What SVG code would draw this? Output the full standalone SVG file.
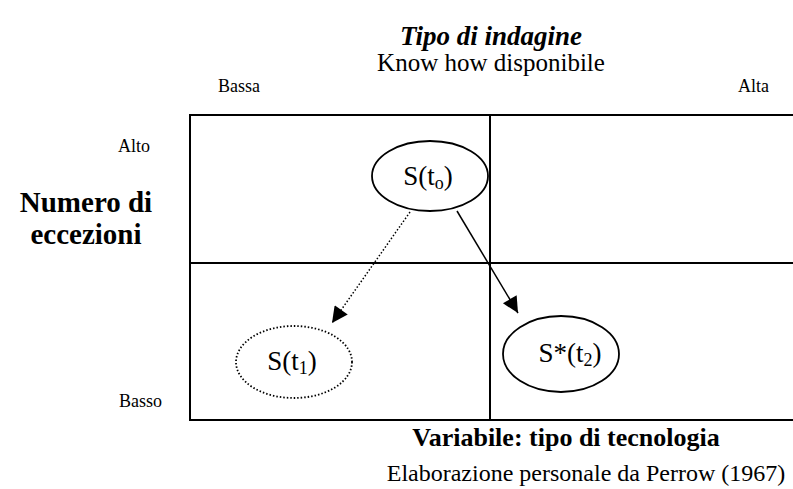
<svg xmlns="http://www.w3.org/2000/svg" width="793" height="489" viewBox="0 0 793 489">
<defs>
<style>
text{font-family:"Liberation Serif","Times New Roman",serif;fill:#000}
.grid{stroke:#000;stroke-width:2;fill:none}
.node{fill:#fff;stroke:#000;stroke-width:1.8}
.dot{fill:#fff;stroke:#000;stroke-width:1.8;stroke-dasharray:1.5 2}
.lab{font-size:27px}
.sub{font-size:18px}
.small{font-size:18px}
.conn{stroke:#000;stroke-width:1.5;fill:none}
</style>
<marker id="ah" viewBox="0 0 10 10" refX="10" refY="5" markerWidth="18" markerHeight="16" markerUnits="userSpaceOnUse" orient="auto">
<path d="M0,0 L10,5 L0,10 z" fill="#000"/>
</marker>
</defs>
<rect width="793" height="489" fill="#fff"/>
<g id="grid">
<line class="grid" x1="190" y1="115" x2="793" y2="115"/>
<line class="grid" x1="190" y1="263" x2="793" y2="263"/>
<line class="grid" x1="190" y1="420" x2="793" y2="420"/>
<line class="grid" x1="190" y1="114" x2="190" y2="421"/>
<line class="grid" x1="490" y1="114" x2="490" y2="421"/>
</g>
<g id="titles">
<text x="491" y="45" font-size="27" font-weight="bold" font-style="italic" text-anchor="middle">Tipo di indagine</text>
<text x="491" y="71" font-size="25" text-anchor="middle">Know how disponibile</text>
<text x="218" y="92" class="small">Bassa</text>
<text x="769" y="92" class="small" text-anchor="end">Alta</text>
<text x="150" y="152" class="small" text-anchor="end">Alto</text>
<text x="162" y="407" class="small" text-anchor="end">Basso</text>
<text x="86" y="212" font-size="29" font-weight="bold" text-anchor="middle">Numero di</text>
<text x="86" y="244" font-size="29" font-weight="bold" text-anchor="middle">eccezioni</text>
<text x="566" y="446" font-size="26" font-weight="bold" text-anchor="middle">Variabile: tipo di tecnologia</text>
<text x="586" y="481" font-size="24" text-anchor="middle">Elaborazione personale da Perrow (1967)</text>
</g>
<g id="connectors">
<line class="conn" x1="410" y1="212" x2="332" y2="323" stroke-dasharray="1.5 2" marker-end="url(#ah)"/>
<line class="conn" x1="457" y1="211" x2="518" y2="313" marker-end="url(#ah)"/>
</g>
<g id="n-s0">
<ellipse class="node" cx="430" cy="176" rx="58" ry="35"/>
<text x="428" y="185" class="lab" text-anchor="middle">S(t<tspan class="sub" dy="4">o</tspan><tspan dy="-4">)</tspan></text>
</g>
<g id="n-s1">
<ellipse class="dot" cx="294" cy="362" rx="58" ry="36"/>
<text x="292" y="370" class="lab" text-anchor="middle">S(t<tspan class="sub" dy="4">1</tspan><tspan dy="-4">)</tspan></text>
</g>
<g id="n-s2">
<ellipse class="node" cx="561" cy="354" rx="58" ry="38"/>
<text x="570" y="362" class="lab" text-anchor="middle">S*(t<tspan class="sub" dy="4">2</tspan><tspan dy="-4">)</tspan></text>
</g>
</svg>
